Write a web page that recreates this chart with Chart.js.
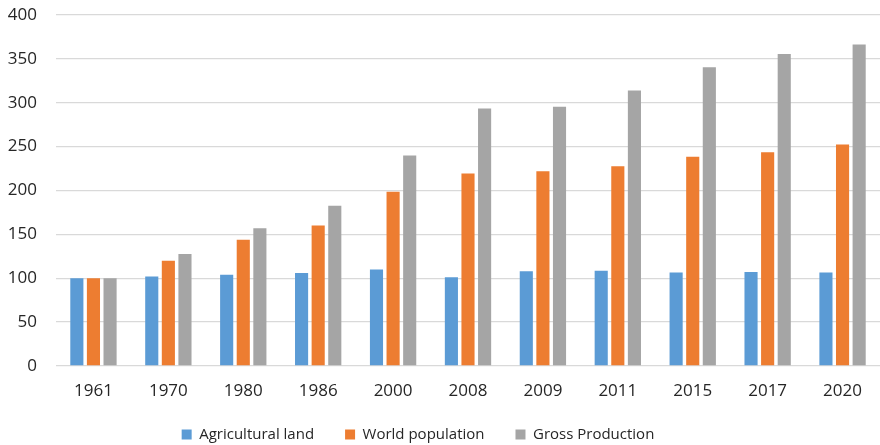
<!DOCTYPE html>
<html>
<head>
<meta charset="utf-8">
<script src="https://cdn.jsdelivr.net/npm/chart.js@4"></script>
<style>
  html, body { margin: 0; padding: 0; background: #fff; }
  #wrap { width: 880px; height: 445px; }
</style>
</head>
<body>
<div id="wrap"><canvas id="c" width="880" height="445"></canvas></div>
<script>
// Index values (1961 = 100)
const years = ['1961', '1970', '1980', '1986', '2000', '2008', '2009', '2011', '2015', '2017', '2020'];
const agriculturalLand = [100, 102, 104, 106, 110, 101, 108, 108.5, 106.5, 107, 106.5];
const worldPopulation  = [100, 120, 144, 160, 198.5, 219.5, 222, 227.5, 238.5, 243.5, 252.5];
const grossProduction  = [100, 127.5, 157, 182.5, 240, 293.5, 295.5, 314, 340.5, 355.5, 366.5];
const yTicks = [0, 50, 100, 150, 200, 250, 300, 350, 400];

const FONT = '"Open Sans", "Liberation Sans", sans-serif';
const TEXT = '#262626';

// Nudge the legend box after layout so it sits a little left of centre, just under the axis labels
const legendOffset = {
  id: 'legendOffset',
  afterLayout(chart) {
    const lg = chart.legend;
    if (!lg) return;
    lg.left -= 26; lg.right -= 26;
    lg.top -= 10; lg.bottom -= 10;
  }
};

new Chart(document.getElementById('c'), {
  type: 'bar',
  data: {
    labels: years,
    datasets: [
      { label: 'Agricultural land', data: agriculturalLand, backgroundColor: '#5B9BD5' },
      { label: 'World population',  data: worldPopulation,  backgroundColor: '#ED7D31' },
      { label: 'Gross Production',  data: grossProduction,  backgroundColor: '#A5A5A5' }
    ]
  },
  plugins: [legendOffset],
  options: {
    responsive: false,
    animation: false,
    devicePixelRatio: 1,
    layout: { padding: { top: 15, left: 8, right: 0, bottom: -17 } },
    datasets: { bar: { categoryPercentage: 0.665, barPercentage: 0.79 } },
    scales: {
      x: {
        grid: { display: false, drawTicks: false },
        border: { display: false },
        ticks: { color: TEXT, font: { family: FONT, size: 17 }, padding: 15 },
        afterFit: (scale) => { scale.height = 40; }
      },
      y: {
        min: 0, max: 400,
        afterBuildTicks: (axis) => { axis.ticks = yTicks.map(v => ({ value: v })); },
        grid: { color: '#D9D9D9', lineWidth: 1.3, drawTicks: false },
        border: { display: false },
        ticks: { color: TEXT, font: { family: FONT, size: 17 }, padding: 19 },
        afterFit: (scale) => {
          scale.width = 48;
          scale.paddingTop = 0;
          scale.paddingBottom = 0;
        }
      }
    },
    plugins: {
      legend: {
        position: 'bottom',
        labels: {
          color: TEXT,
          font: { family: FONT, size: 15 },
          boxWidth: 10, boxHeight: 10,
          padding: 31
        }
      },
      tooltip: { enabled: false }
    }
  }
});
</script>
</body>
</html>
